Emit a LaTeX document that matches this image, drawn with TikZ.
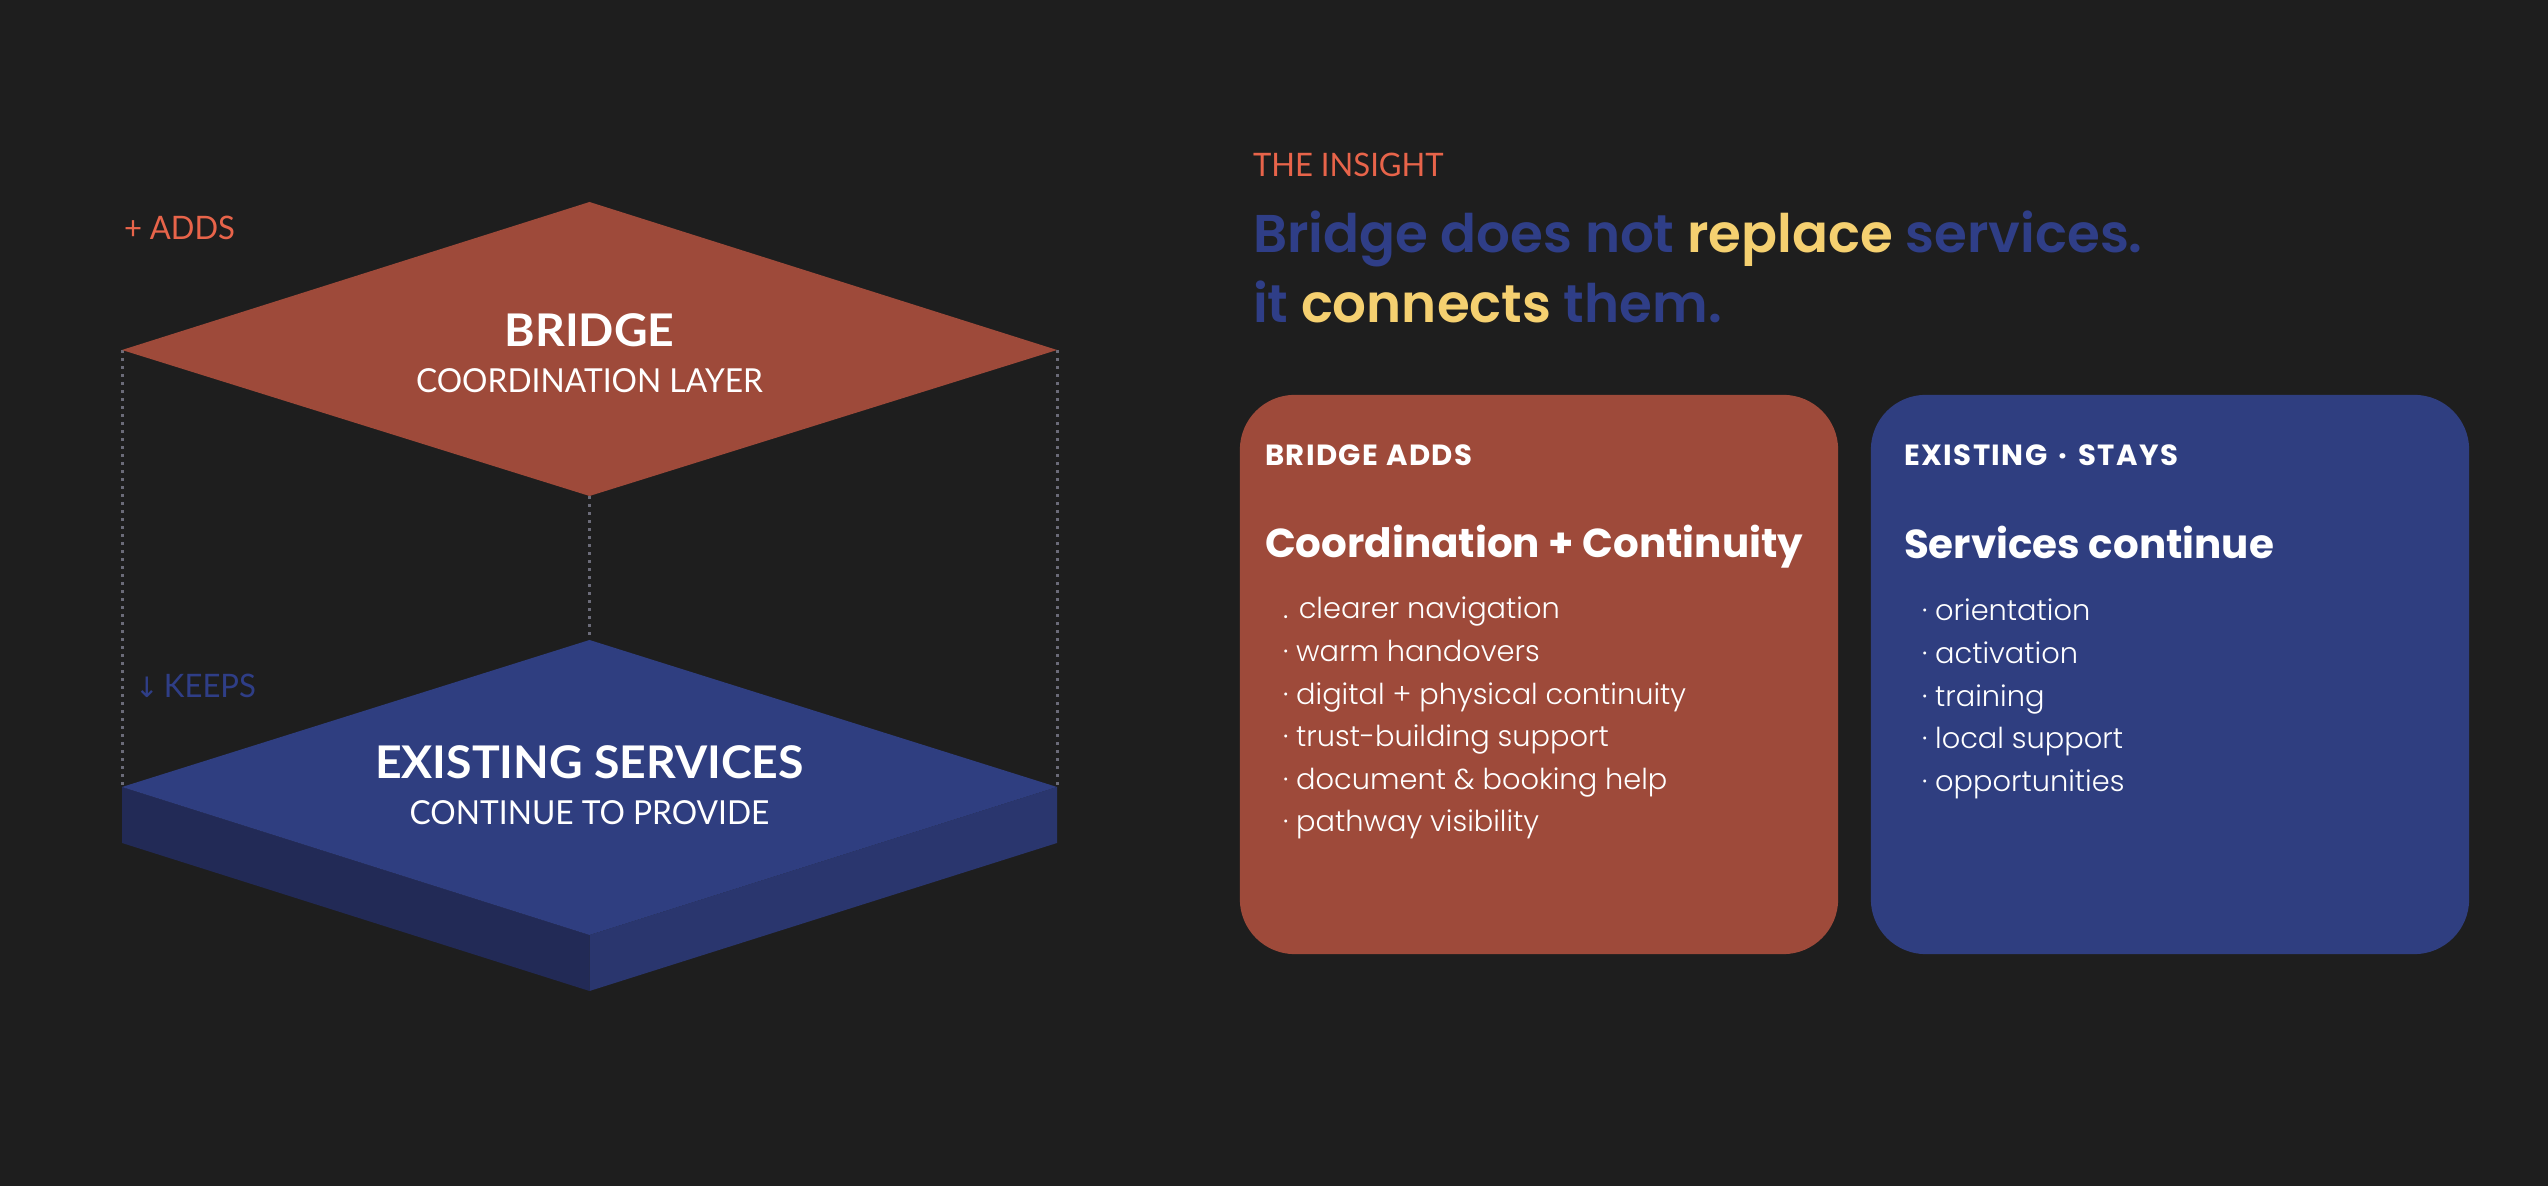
\documentclass[tikz,border=0pt]{standalone}
\usepackage{fontspec}
\setmainfont{Poppins}
\newfontfamily\narrowfont[FakeStretch=0.96]{Lato}
\newfontfamily\layerfont[FakeStretch=1.03]{Lato}
\newfontfamily\tagfont[LetterSpace=5]{Poppins}
\newfontfamily\symfont{DejaVu Sans}
\IfFontExistsTF{Poppins SemiBold}{\newfontfamily\headfont{Poppins SemiBold}}{\newfontfamily\headfont{Poppins}[UprightFont=*,BoldFont=*]}
\IfFontExistsTF{Poppins Light}{\newfontfamily\itemfont{Poppins Light}}{\newfontfamily\itemfont{Poppins}}
\usetikzlibrary{positioning}
\definecolor{bg}{HTML}{1E1E1E}
\definecolor{rust}{HTML}{9E4A3A}
\definecolor{navy}{HTML}{2F3E80}
\definecolor{navyleft}{HTML}{222A56}
\definecolor{navyright}{HTML}{2A366E}
\definecolor{coral}{HTML}{E8644A}
\definecolor{gold}{HTML}{F5D070}
\definecolor{ink}{HTML}{2F3E87}
\definecolor{guide}{HTML}{6B6B78}
\newcommand{\sz}[1]{\fontsize{#1}{#1}\selectfont}

\begin{document}
\begin{tikzpicture}[x=0.01cm,y=-0.01cm]
    \tikzstyle{every node}=[inner sep=0pt,outer sep=0pt]
    \tikzstyle{guide line}=[guide,line width=0.03cm,dash pattern=on 0.03cm off 0.05cm]
    \tikzstyle{layer title}=[anchor=base,white,font=\layerfont\bfseries\sz{12.8}]
    \tikzstyle{layer sub}=[anchor=base,white,font=\narrowfont\sz{9.4}]
    \tikzstyle{side tag}=[anchor=base west,font=\narrowfont\sz{9.2}]
    \tikzstyle{card}=[rounded corners=0.55cm,minimum width=5.98cm,minimum height=5.59cm]
    \tikzstyle{card tag}=[anchor=base west,white,font=\tagfont\bfseries\sz{8.3}]
    \tikzstyle{card title}=[anchor=base west,white,font=\bfseries\sz{11.5}]
    \tikzstyle{item}=[anchor=base west,white,font=\itemfont\sz{8.2}]

    \fill[bg] (0,0) rectangle (2548,1186);

    \coordinate (bt) at (589.5,202);
    \coordinate (bl) at (122,350);
    \coordinate (br) at (1057,350);
    \coordinate (bb) at (589.5,496);
    \coordinate (st) at (589.5,640);
    \coordinate (sl) at (122,787);
    \coordinate (sr) at (1057,787);
    \coordinate (sf) at (589.5,935);
    \coordinate (sld) at (122,843);
    \coordinate (srd) at (1057,843);
    \coordinate (sfd) at (589.5,991);

    \draw[guide line] (bl) -- (sl);
    \draw[guide line] (br) -- (sr);
    \draw[guide line] (bb) -- (st);

    \fill[rust] (bl) -- (bt) -- (br) -- (bb) -- cycle;
    \fill[navyleft] (sl) -- (sf) -- (sfd) -- (sld) -- cycle;
    \fill[navyright] (sf) -- (sr) -- (srd) -- (sfd) -- cycle;
    \fill[navy] (sl) -- (st) -- (sr) -- (sf) -- cycle;

    \node[side tag,coral] (adds) at (124,240) {+ ADDS};
    \node[side tag,ink] (keeps) at (135,698) {{\symfont\sz{8}↓}\,KEEPS};
    \node[layer title] (bridge) at (589.5,347) {BRIDGE};
    \node[layer sub] (coord) at (589.5,393) {COORDINATION LAYER};
    \node[layer title] (existing) at (589.5,779) {EXISTING SERVICES};
    \node[layer sub] (provide) at (589.5,825) {CONTINUE TO PROVIDE};

    \node[side tag,coral] (insight) at (1253,177) {THE INSIGHT};
    \node[anchor=base west,font=\headfont\sz{15.1}] (line1) at (1253,253)
        {\color{ink}Bridge does not \color{gold}replace \color{ink}services.};
    \node[anchor=base west,font=\headfont\sz{15.1}] (line2) at (1253,323)
        {\color{ink}it \color{gold}connects \color{ink}them.};

    \node[card,fill=rust] (addcard) at (1539,674.5) {};
    \node[card,fill=navy] (staycard) at (2170,674.5) {};

    \node[card tag] (addtag) at (1265,466) {BRIDGE ADDS};
    \node[card title] (addtitle) at (1265,558) {Coordination + Continuity};
    \foreach \t [count=\i] in {. clearer navigation,· warm handovers,· digital + physical continuity,· trust-building support,· document \& booking help,· pathway visibility}
        \node[item] (add\i) at (1283,{619+42.6*(\i-1)}) {\t};

    \node[card tag] (staytag) at (1904,466) {EXISTING\hspace{0.11cm}·\hspace{0.11cm}STAYS};
    \node[card title] (staytitle) at (1904,559) {Services continue};
    \foreach \t [count=\i] in {orientation,activation,training,local support,opportunities}
        \node[item] (stay\i) at (1922,{621+42.6*(\i-1)}) {· \t};
\end{tikzpicture}
\end{document}
